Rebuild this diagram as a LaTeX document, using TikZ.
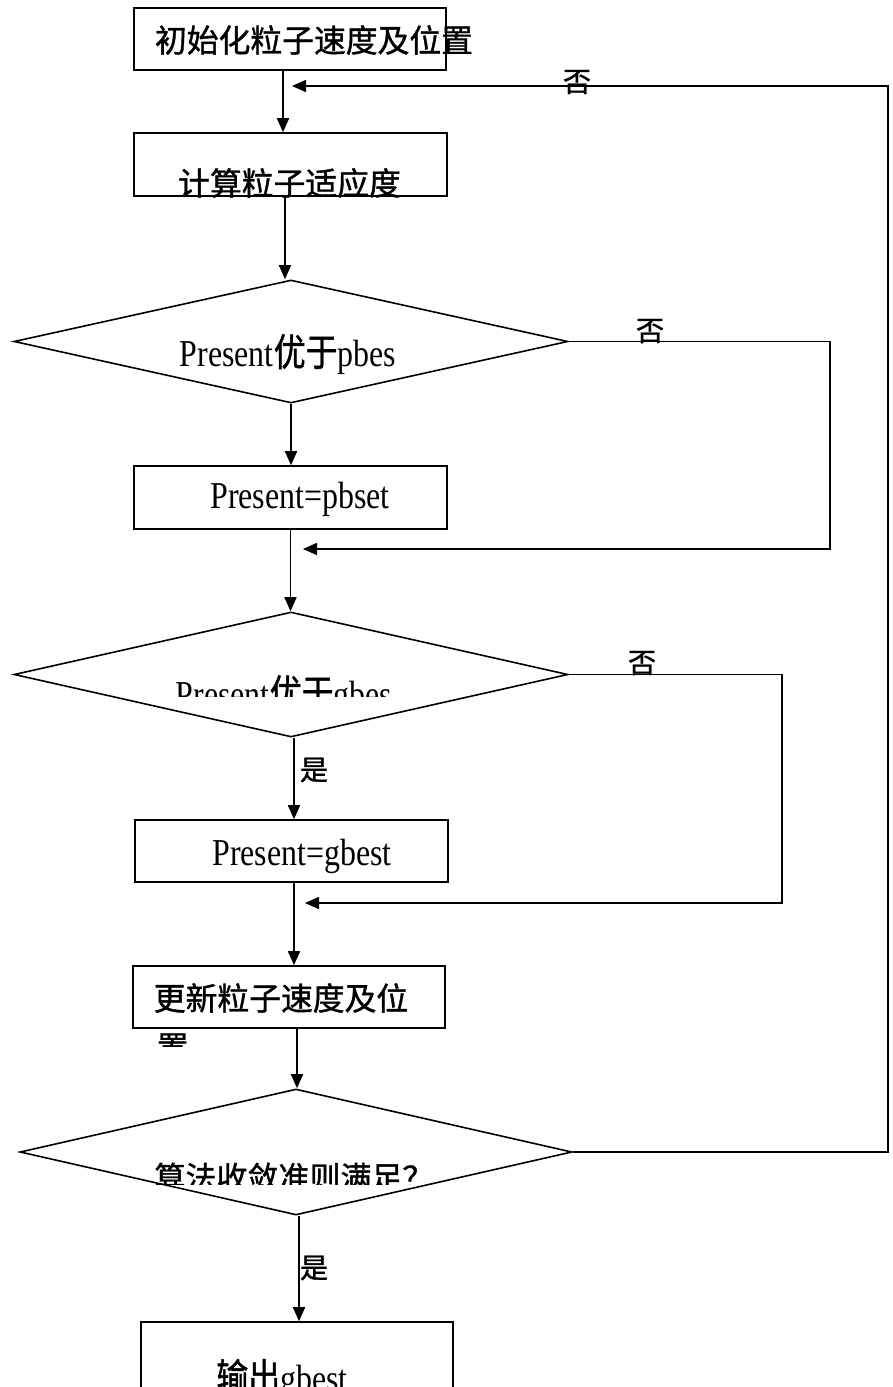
\documentclass[tikz,border=0pt]{standalone}
\usepackage{fontspec}
\usepackage{graphicx}
\setmainfont{Liberation Serif}
\newfontfamily\cjk{Noto Sans CJK SC}[FakeBold=1.2]
\usetikzlibrary{arrows.meta,shapes.geometric}
\newcommand\sqz[1]{\scalebox{0.84}[1]{#1}}
\begin{document}
\begin{tikzpicture}[x=1pt,y=-1pt,
  line width=1.6pt,
  box/.style={draw, inner sep=0pt, minimum width=#1},
  dia/.style={diamond, draw, inner sep=0pt, aspect=4.5},
  arr/.style={-{Triangle[length=14pt,width=12pt]}},
  cjktxt/.style={inner sep=0pt, font=\cjk\fontsize{31.8}{36}\selectfont},
  lattxt/.style={inner sep=0pt, anchor=base, font=\fontsize{38}{42}\selectfont},
  lab/.style={inner sep=0pt, font=\cjk\fontsize{28}{30}\selectfont}]
\useasboundingbox (0,0) rectangle (892,1387);
\clip (0,0) rectangle (892,1387);

% boxes
\node[box=312pt, minimum height=62pt] (b1) at (290,39) {};
\node[box=313pt, minimum height=63pt] (b2) at (290.5,164.5) {};
\node[box=313pt, minimum height=63pt] (b3) at (290.5,497.5) {};
\node[box=313pt, minimum height=62pt] (b4) at (291.5,851) {};
\node[box=312pt, minimum height=62pt] (b5) at (289,997) {};
\node[box=312pt, minimum height=80pt] (b6) at (297,1362) {};

% diamonds
\node[dia, minimum width=554pt, minimum height=123pt] (d1) at (291,341.5) {};
\node[dia, minimum width=554pt, minimum height=125pt] (d2) at (291,674.5) {};
\node[dia, minimum width=552pt, minimum height=126pt] (d3) at (296,1152) {};

% texts
\node[cjktxt] (t1) at (314,40) {初始化粒子速度及位置};
\begin{scope}
\clip (0,0) rectangle (892,197);
\node[cjktxt] (t2) at (289.5,183) {计算粒子适应度};
\end{scope}
\node[lattxt] (t3) at (300,508) {\sqz{Present=pbset}};
\node[lattxt] (t4) at (302,865) {\sqz{Present=gbest}};
\node[cjktxt] (t5) at (281,998) {更新粒子速度及位};
\begin{scope}
\clip (0,0) rectangle (892,1046);
\node[cjktxt, anchor=west] (t5b) at (156,1047) {置};
\end{scope}
\node[lattxt] (td1) at (288,366) {\sqz{Present{\cjk 优于}pbes}};
\begin{scope}
\clip (0,0) rectangle (892,696);
\node[lattxt] (td2) at (284,707) {\sqz{Present{\cjk 优于}gbes}};
\end{scope}
\begin{scope}
\clip (0,0) rectangle (892,1184);
\node[cjktxt, font=\cjk\fontsize{31}{36}\selectfont] (td3) at (294,1177) {算法收敛准则满足？};
\end{scope}
\node[lattxt] (t6) at (282,1391) {\sqz{{\cjk 输出}gbest}};

% labels
\node[lab] (no1) at (577,82) {否};
\node[lab] (no2) at (650,331) {否};
\node[lab] (no3) at (642,663) {否};
\node[lab] (yes1) at (314,770) {是};
\node[lab] (yes2) at (314,1268) {是};

% main flow
\draw[arr] ([xshift=-7pt]b1.south) -- ([xshift=-7pt]b1.south |- b2.north);
\draw[arr] ([xshift=-5.5pt]b2.south) -- ([xshift=-5.5pt]b2.south |- d1.north);
\draw[arr] (d1.south) -- (d1.south |- b3.north);
\draw[arr] (b3.south) -- (b3.south |- d2.north);
\draw[arr] ([xshift=3pt]d2.south) -- ([xshift=3pt]d2.south |- b4.north);
\draw[arr] ([xshift=2.5pt]b4.south) -- ([xshift=2.5pt]b4.south |- b5.north);
\draw[arr] ([xshift=8pt]b5.south) -- ([xshift=8pt]b5.south |- d3.north);
\draw[arr] ([xshift=3pt]d3.south) -- ([xshift=3pt]d3.south |- b6.north);

% loops
\coordinate (r1) at (830,549);
\coordinate (m1) at (303,549);
\coordinate (r2) at (782,903);
\coordinate (m2) at (305,903);
\coordinate (r3) at (888,86);
\coordinate (m3) at (292,86);
\draw[arr] (d1.east) -| (r1) -- (m1);
\draw[arr] (d2.east) -| (r2) -- (m2);
\draw[arr] (d3.east) -| (r3) -- (m3);
\end{tikzpicture}
\end{document}
